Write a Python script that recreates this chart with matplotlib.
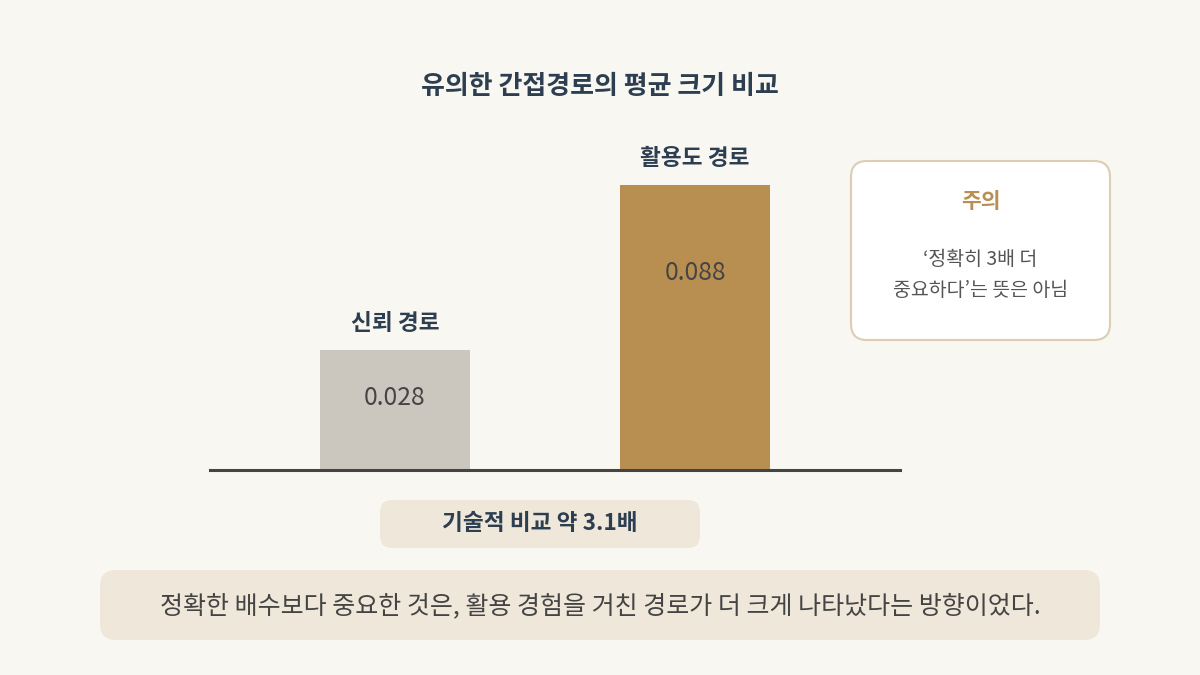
import matplotlib
matplotlib.use("Agg")
import matplotlib.pyplot as plt
from matplotlib.patches import FancyBboxPatch

plt.rcParams['font.family'] = ['Noto Sans CJK KR', 'DejaVu Sans']

# ---- data ----
title = "유의한 간접경로의 평균 크기 비교"
categories = ["신뢰 경로", "활용도 경로"]
values = [0.028, 0.088]
value_labels = ["0.028", "0.088"]
ratio_label = "기술적 비교 약 3.1배"
note_title = "주의"
note_text = "‘정확히 3배 더\n중요하다’는 뜻은 아님"
footer_text = "정확한 배수보다 중요한 것은, 활용 경험을 거친 경로가 더 크게 나타났다는 방향이었다."

# ---- style ----
BG = "#f8f7f2"
BAR_COLORS = ["#cbc6be", "#b88f51"]
NAVY = "#2c3e50"
TEXT = "#444444"
BOX = "#efe7d9"
W, H = 1200, 675
base = -0.0156  # visual baseline of the bar axis

fig = plt.figure(figsize=(12, 6.75), dpi=100, facecolor=BG)

# overlay axes in pixel coords
ov = fig.add_axes([0, 0, 1, 1])
ov.set_xlim(0, W)
ov.set_ylim(H, 0)
ov.axis("off")
ov.set_facecolor(BG)

ov.text(600, 87, title, ha="center", va="center", fontsize=18.7,
        fontweight="bold", color=NAVY)

# bar axes
left, right, bottom_px, top_px = 210, 900, 470, 185
ax = fig.add_axes([left / W, (H - bottom_px) / H, (right - left) / W,
                   (bottom_px - top_px) / H])
ax.set_facecolor("none")
x = [0, 1]
ax.bar(x, [v - base for v in values], bottom=base, width=0.5,
       color=BAR_COLORS, zorder=2)
ax.set_xlim(-185 / 300, 1 + 205 / 300)
ax.set_ylim(base, max(values))
ax.axhline(base, color="#444444", lw=2.2, zorder=3, clip_on=False)
for s in ax.spines.values():
    s.set_visible(False)
ax.set_xticks([])
ax.set_yticks([])

value_frac = [0.40, 0.31]
for i, (c, v, vl) in enumerate(zip(categories, values, value_labels)):
    ax.annotate(c, (x[i], v), xytext=(0, 27), textcoords="offset pixels",
                ha="center", va="center", fontsize=16.3, fontweight="bold",
                color=NAVY, annotation_clip=False)
    yv = v - value_frac[i] * (v - base)
    ax.text(x[i], yv, vl, ha="center", va="center", fontsize=17.8,
            color=TEXT)

# note box
ov.add_patch(FancyBboxPatch((851, 161), 259, 179,
                            boxstyle="round,pad=0,rounding_size=16",
                            facecolor="white", edgecolor="#dccdb3", lw=1.5))
ov.text(980.5, 202, note_title, ha="center", va="center", fontsize=15.5,
        fontweight="bold", color="#b88f51")
ov.text(980.5, 275, note_text, ha="center", va="center", fontsize=14,
        color="#555555", linespacing=1.6)

# ratio box
ov.add_patch(FancyBboxPatch((380, 500), 320, 48,
                            boxstyle="round,pad=0,rounding_size=12",
                            facecolor=BOX, edgecolor="none"))
ov.text(540, 524, ratio_label, ha="center", va="center", fontsize=16.3,
        fontweight="bold", color=NAVY)

# footer box
ov.add_patch(FancyBboxPatch((100, 570), 1000, 70,
                            boxstyle="round,pad=0,rounding_size=16",
                            facecolor=BOX, edgecolor="none"))
ov.text(600, 606, footer_text, ha="center", va="center", fontsize=18,
        color=TEXT)

fig.savefig("out.png", dpi=100, facecolor=BG)
